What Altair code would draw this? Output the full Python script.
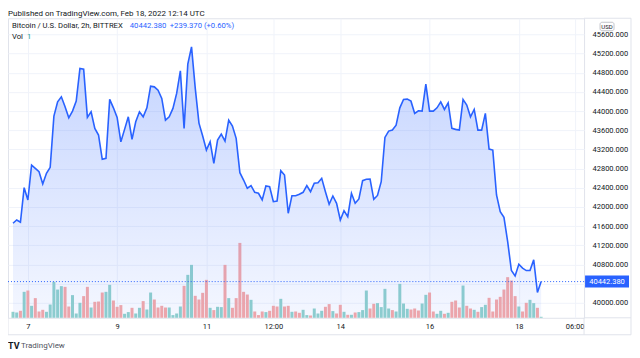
import altair as alt
import pandas as pd

# ---------------- data ----------------
PRICES = [
    41660, 41729, 41681, 42402, 42146, 42875, 42806, 42735, 42479, 42702,
    42827, 43896, 44194, 44298, 44090, 43860, 44000, 44208, 44890, 44875,
    43869, 43985, 43640, 43500, 42994, 43015, 44244, 44069, 43869, 43360,
    43619, 43881, 43410, 43777, 43985, 43881, 44069, 44521, 44506, 44437,
    44265, 43812, 43881, 44056, 44369, 44840, 43640, 44979, 45340, 44479,
    43750, 43479, 43187, 43360, 42910, 43396, 43521, 43375, 43812, 43687,
    43431, 42715, 42562, 42390, 42444, 42306, 42285, 42146, 42437, 42423,
    42110, 42125, 42756, 42667, 41869, 42235, 42235, 42265, 42306, 42444,
    42319, 42494, 42506, 42598, 42319, 42056, 42229, 42077, 41729, 41923,
    41798, 42285, 42077, 42167, 42548, 42577, 42583, 42160, 42240, 42527,
    43452, 43583, 43604, 43708, 44069, 44244, 44250, 44208, 43952, 44006,
    44000, 44562, 44000, 44000, 44069, 44194, 44035, 44173, 43640, 43619,
    43604, 44244, 44125, 43881, 44035, 43604, 43604, 43952, 43208, 43187,
    42250, 41902, 41785, 41277, 40673, 40562, 40806, 40723, 40673, 40673,
    40896, 40215, 40442.38,
]
VOLUMES = [
    6, 5.3, 7, 26, 27.3, 12, 19.7, 6.3, 8, 6, 13.3, 36, 28.3, 31.7, 31, 11.3,
    22.7, 4.3, 15, 21.7, 31, 10.3, 16, 16.3, 25.3, 26, 33, 17.3, 11, 12.7, 4,
    5.7, 10, 4.3, 10, 16.7, 8.3, 25.3, 18.3, 10.3, 12, 10.3, 10.3, 2.7, 4.3,
    11.3, 32, 43,
    53, 22, 18.3, 25, 38, 10, 7.7, 11, 10.7, 53, 19.7, 10, 19.7, 75, 26, 23.3,
    18, 6.3, 2.7, 6.3, 5.7, 7, 12, 11.3, 19, 11.3, 12, 6, 6.3, 5, 8, 2.7, 2.3,
    9.3, 4.3, 7, 11, 13.7, 6.7, 4.3, 13, 6, 3, 3, 5.3, 5.7, 7.7,
    27.3, 9.3, 14, 14.7, 10.7, 29, 9.3, 7.7, 6.3, 34, 14.3, 9, 8.3, 9.3, 7.3,
    14.3, 23, 25.3, 6.3, 4, 7, 4, 5, 16, 17.3, 10.3, 32.3, 12, 9.3, 8, 6, 10.7,
    13, 20, 6.3, 18.3, 21, 28.3, 40.7, 37.3, 21.7, 11.3, 6.3, 15, 18, 14.7, 10, 1,
]
DIRECTIONS = list(
    "GGRGRGRRRG" "GGGGRRGGGR" "RGRRRGGRRR" "GGRGGRGGRR" "RRGGGGRG"
    "GRRRRGRGGR" "GRRRRRGRRR" "GRRRGRRGRR" "GGRGGGRRGR" "RGRGRGG"
    "GRRGGGGRGG" "GGRRRGGRRG" "GRGRRRGRRG" "RGGRRRRRRR" "RGRRGGRG"
)
START = "2022-02-06 16:00"
Y_TICKS = list(range(40000, 45601, 400))
LAST = 40442.38
LAST_TEXT = "40442.380"
CHANGE_TEXT = "+239.370 (+0.60%)"
PUBLISHED = "Published on TradingView.com, Feb 18, 2022 12:14 UTC"
SYMBOL = "Bitcoin / U.S. Dollar, 2h, BITTREX"

Y_MIN, Y_MAX = 39687.5, 45937.5
W, H = 577, 300
FONT = "Roboto"
TXT = "#131722"
BLUE = "#2962ff"
FRAME = "#e0e3eb"
GRID = "#f0f3fa"

times = pd.date_range(START, periods=len(PRICES), freq="2h")
df = pd.DataFrame({
    "t": times.strftime("%Y-%m-%dT%H:%M:%SZ"),
    "price": PRICES,
    "vol": VOLUMES,
    "dir": DIRECTIONS,
})
ONE = pd.DataFrame({"a": [0]})

x_scale = alt.Scale(
    type="utc",
    domain=[alt.DateTime(year=2022, month=2, date=6, hours=16, utc=True),
            alt.DateTime(year=2022, month=2, date=19, hours=8, minutes=24, utc=True)],
)
x_ticks = [
    alt.DateTime(year=2022, month=2, date=7, utc=True),
    alt.DateTime(year=2022, month=2, date=9, utc=True),
    alt.DateTime(year=2022, month=2, date=11, utc=True),
    alt.DateTime(year=2022, month=2, date=12, hours=12, utc=True),
    alt.DateTime(year=2022, month=2, date=14, utc=True),
    alt.DateTime(year=2022, month=2, date=16, utc=True),
    alt.DateTime(year=2022, month=2, date=18, utc=True),
    alt.DateTime(year=2022, month=2, date=19, hours=6, utc=True),
]
x_axis = alt.Axis(
    values=x_ticks,
    labelExpr="utchours(datum.value) == 0 ? utcFormat(datum.value, '%-d') : utcFormat(datum.value, '%H:%M')",
    ticks=False, domain=False, grid=True, gridColor=GRID, gridWidth=1,
    labelFont=FONT, labelFontSize=7.5, labelColor=TXT, labelPadding=5,
    labelFlush=False, labelOverlap=False, title=None,
)
X = alt.X("t:T", scale=x_scale, axis=x_axis)

p_scale = alt.Scale(domain=[Y_MIN, Y_MAX], zero=False, nice=False)
p_axis = alt.Axis(
    orient="right", values=Y_TICKS,
    labelExpr="datum.value == 40400 ? '' : format(datum.value, '.3f')",
    ticks=False, domain=False, grid=True, gridColor=GRID, gridWidth=1,
    labelFont=FONT, labelFontSize=7.5, labelColor=TXT, labelAlign="left",
    labelBaseline="middle", labelPadding=8, labelOverlap=False, title=None,
)

base = alt.Chart(df)

vol = base.mark_bar(size=3).encode(
    x=X,
    y=alt.Y("vol:Q", scale=alt.Scale(domain=[0, max(VOLUMES) * 4], nice=False), axis=None),
    color=alt.Color("dir:N", scale=alt.Scale(domain=["G", "R"], range=["#92d2cc", "#f7a9a7"]), legend=None),
)

gradient = alt.Gradient(
    gradient="linear",
    stops=[alt.GradientStop(color="rgba(41,98,255,0.28)", offset=0),
           alt.GradientStop(color="rgba(41,98,255,0.05)", offset=1)],
    x1=1, x2=1, y1=0, y2=1,
)
area = base.mark_area(color=gradient).encode(
    x=X,
    y=alt.Y("price:Q", scale=p_scale, axis=p_axis),
    y2=alt.datum(Y_MIN),
)
line = base.mark_line(color=BLUE, strokeWidth=1.6).encode(
    x=X,
    y=alt.Y("price:Q", scale=p_scale, axis=None),
)

last_rule = alt.Chart(ONE).mark_rule(color=BLUE, strokeDash=[1, 2], strokeWidth=1).encode(
    y=alt.YDatum(LAST, scale=p_scale, axis=None, type="quantitative"),
)
PX = (Y_MAX - Y_MIN) / H
badge = alt.Chart(ONE).mark_rect(color=BLUE).encode(
    x=alt.value(578), x2=alt.value(622),
    y=alt.YDatum(LAST + 6 * PX, scale=p_scale, axis=None, type="quantitative"),
    y2=alt.datum(LAST - 6 * PX),
)
badge_text = alt.Chart(ONE).mark_text(
    text=LAST_TEXT, color="white", fontSize=7.5, font=FONT, align="center", baseline="middle"
).encode(
    x=alt.value(600),
    y=alt.YDatum(LAST, scale=p_scale, axis=None, type="quantitative"),
)

usd_box = alt.Chart(ONE).mark_rect(fill="white", stroke="#b2b5be", strokeWidth=0.8, cornerRadius=2).encode(
    x=alt.value(593), x2=alt.value(607), y=alt.value(4), y2=alt.value(12.5)
)


def txt(s, x, y, size=7.5, color=TXT, weight="normal", align="left"):
    return alt.Chart(ONE).mark_text(
        text=s, align=align, baseline="middle", fontSize=size, color=color,
        fontWeight=weight, font=FONT,
    ).encode(x=alt.value(x), y=alt.value(y))


def seg(x1, x2, y1, y2):
    return alt.Chart(ONE).mark_rule(color=FRAME, strokeWidth=1).encode(
        x=alt.value(x1), x2=alt.value(x2), y=alt.value(y1), y2=alt.value(y2)
    )


texts = [
    txt(PUBLISHED, 0, -4.5, size=8),
    txt(SYMBOL, 4, 7.7, size=7.7),
    txt(LAST_TEXT, 122, 7.7, size=7.7, color=BLUE),
    txt(CHANGE_TEXT, 162, 7.7, size=7.7, color=BLUE),
    txt("Vol", 4, 19, size=7.7),
    txt("1", 19, 19, size=7.7, color="#26a69a"),
    txt("USD", 600, 8.3, size=6, align="center"),
    txt("TV", 0, 328, size=9, weight="bold"),
    txt("TradingView", 13, 328, size=8, color="#50535e"),
]
frames = [
    seg(577, 624, 0, 0),
    seg(624, 624, 0, 317),
    seg(0, 624, 317, 317),
    seg(0, 0, 300, 317),
    seg(577, 577, 300, 317),
    seg(577, 624, 300, 300),
]

chart = alt.layer(
    vol, area, line, last_rule, badge, badge_text, usd_box, *texts, *frames
).resolve_scale(y="independent").properties(
    width=W, height=H,
    autosize="none",
    padding={"left": 0, "top": 10, "right": 48, "bottom": 40},
    background="white",
).configure_view(stroke=FRAME, strokeWidth=1)

chart.save("out.html", embed_options={"renderer": "svg", "actions": False})
